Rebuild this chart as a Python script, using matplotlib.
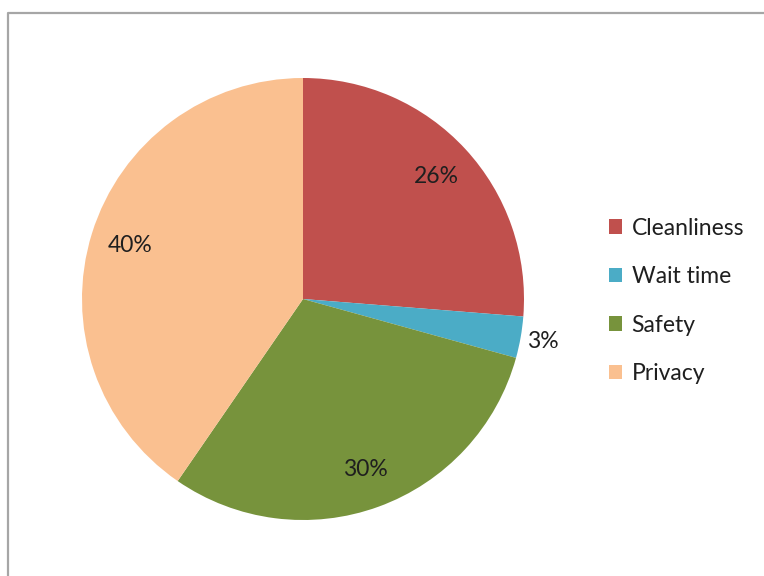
import matplotlib
matplotlib.use("Agg")
import matplotlib.pyplot as plt
import numpy as np
from matplotlib.lines import Line2D
from matplotlib.patches import Patch

categories = ["Cleanliness", "Wait time", "Safety", "Privacy"]
values = [26, 3, 30, 40]
colors = ["#C0504D", "#4BACC6", "#77933C", "#FAC090"]

plt.rcParams["font.family"] = ["Lato", "DejaVu Sans"]

W, H = 764, 576
fig = plt.figure(figsize=(W / 100, H / 100), dpi=100)
ax = fig.add_axes([0, 0, 1, 1])

cx, cy, r = 303, H - 299, 221
wedges, _ = ax.pie(values, colors=colors, startangle=90, counterclock=False,
                   center=(cx, cy), radius=r, frame=True,
                   wedgeprops=dict(linewidth=0))
ax.set_xlim(0, W)
ax.set_ylim(0, H)
ax.set_aspect("equal")
ax.set_axis_off()

total = sum(values)
for w, v in zip(wedges, values):
    mid = np.deg2rad((w.theta1 + w.theta2) / 2)
    frac = v / total
    d = 1.1 if frac < 0.05 else 0.82
    ax.text(cx + d * r * np.cos(mid), cy + d * r * np.sin(mid), f"{v}%",
            ha="center", va="center", fontsize=16.5, color="#1f1f1f")

handles = [Patch(facecolor=c, edgecolor="none") for c in colors]
fig.legend(handles, categories, loc="center left",
           bbox_to_anchor=(588 / W, 1 - 301 / H), frameon=False,
           fontsize=16.5, labelspacing=1.2, handlelength=0.6,
           handleheight=0.6, handletextpad=0.4, labelcolor="#1f1f1f")

# outer border (chart area frame)
bx, by = 8 / W, 1 - 13 / H
fig.add_artist(Line2D([bx, bx, 1.01], [-0.01, by, by], transform=fig.transFigure,
                      color="#a6a6a6", linewidth=1.6))

fig.savefig("out.png", dpi=100, facecolor="white")
